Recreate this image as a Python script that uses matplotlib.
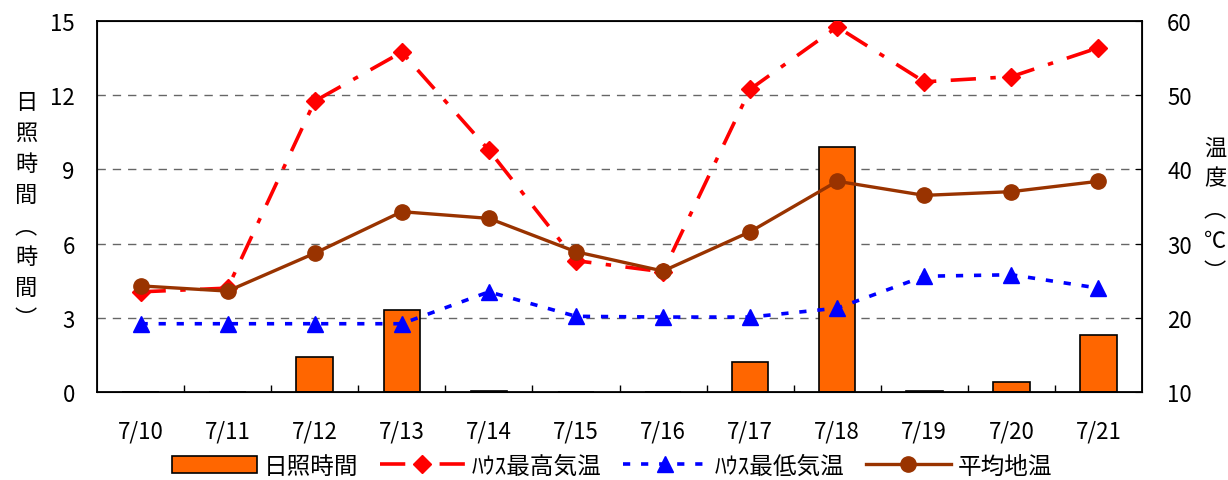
import matplotlib
matplotlib.use('Agg')
from matplotlib import pyplot as plt
from matplotlib.lines import Line2D
from matplotlib.patches import Patch
import numpy as np

plt.rcParams['font.family'] = ['Noto Sans CJK JP', 'DejaVu Sans']

dates = ['7/10', '7/11', '7/12', '7/13', '7/14', '7/15',
         '7/16', '7/17', '7/18', '7/19', '7/20', '7/21']
sunshine = [0, 0, 1.4, 3.3, 0.05, 0, 0, 1.2, 9.9, 0.05, 0.4, 2.3]
house_max = [23.5, 24.0, 49.2, 55.8, 42.6, 27.7, 26.2, 50.8, 59.2, 51.8, 52.5, 56.4]
house_min = [19.2, 19.2, 19.2, 19.2, 23.5, 20.2, 20.1, 20.1, 21.3, 25.6, 25.8, 24.0]
soil_avg = [24.3, 23.6, 28.7, 34.3, 33.4, 28.9, 26.3, 31.6, 38.4, 36.5, 37.0, 38.4]

x = np.arange(len(dates)) + 0.5

fig = plt.figure(figsize=(12.28, 4.81), dpi=100)
ax = fig.add_axes([97 / 1228, 1 - 393 / 481, (1142 - 97) / 1228, (393 - 22) / 481])
ax2 = ax.twinx()

# sunshine hours on the left axis
ax.bar(x, sunshine, width=0.42, color='#FF6600', edgecolor='black', lw=1.2, zorder=2)
ax.set_xlim(0, len(dates))
ax.set_ylim(0, 15)
ax.set_yticks([0, 3, 6, 9, 12, 15])
for v in [3, 6, 9, 12]:
    ax.axhline(v, color='#666666', lw=1, ls=(0, (6, 5)), zorder=1)
ax.set_xticks(np.arange(1, len(dates)), minor=False)
ax.set_xticklabels([])
ax.set_xticks(x, minor=True)
ax.set_xticklabels(dates, minor=True)
ax.tick_params(axis='x', which='major', direction='in', length=5, width=1)
ax.tick_params(axis='x', which='minor', length=0, pad=20, labelsize=16)
ax.tick_params(axis='y', direction='in', length=0, pad=16, labelsize=16)
for s in ax.spines.values():
    s.set_linewidth(1.3)

# temperatures on the right axis
ax2.plot(x, house_max, color='#FF0000', lw=2.6, ls=(0, (7, 4, 1.5, 4)),
         marker='D', ms=9, zorder=4)
ax2.plot(x, house_min, color='#0000FF', lw=2.6, ls=(0, (2, 3)),
         marker='^', ms=12, zorder=4)
ax2.plot(x, soil_avg, color='#993300', lw=2.4, marker='o', ms=11, zorder=5)
ax2.set_ylim(10, 60)
ax2.set_yticks([10, 20, 30, 40, 50, 60])
ax2.tick_params(axis='y', direction='in', length=5, pad=18, labelsize=16)

# stacked vertical axis titles
fig.text(26 / 1228, 1 - 211 / 481, '\n'.join('日照時間︵時間︶'), ha='center', va='center',
         fontsize=16, linespacing=1.45)
fig.text(1215 / 1228, 1 - 210 / 481, '\n'.join('温度︵℃︶'), ha='center', va='center',
         fontsize=16, linespacing=1.45)

handles = [
    Patch(facecolor='#FF6600', edgecolor='black', lw=1.2),
    Line2D([], [], color='#FF0000', lw=2.6, ls=(0, (7, 4, 1.5, 4)), marker='D', ms=9),
    Line2D([], [], color='#0000FF', lw=2.6, ls=(0, (2, 3)), marker='^', ms=12),
    Line2D([], [], color='#993300', lw=2.4, marker='o', ms=11),
]
labels = ['日照時間', 'ﾊｳｽ最高気温', 'ﾊｳｽ最低気温', '平均地温']
fig.legend(handles, labels, loc='center', bbox_to_anchor=(612 / 1228, 1 - 467 / 481),
           ncol=4, frameon=False, fontsize=17, handlelength=3.6, handletextpad=0.3,
           columnspacing=0.9)

plt.savefig('out.png', dpi=100)
plt.close()
